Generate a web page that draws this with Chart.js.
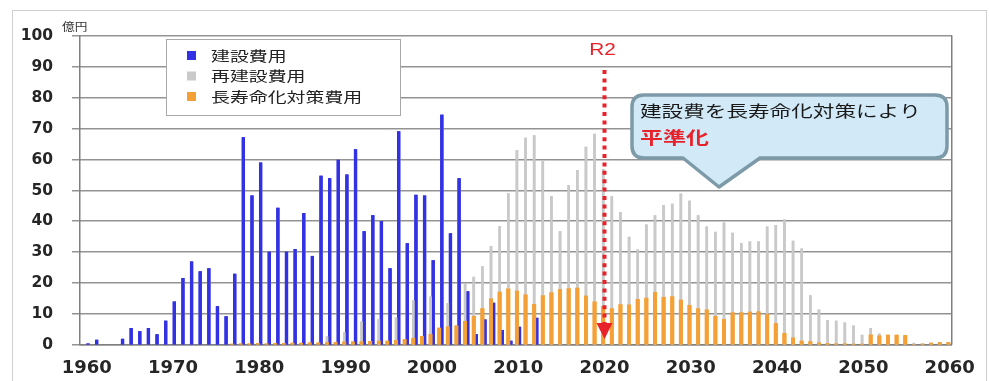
<!DOCTYPE html>
<html lang="ja">
<head>
<meta charset="utf-8">
<title>建設費用・再建設費用・長寿命化対策費用の推移</title>
<script src="https://cdn.jsdelivr.net/npm/chart.js@4.4.1/dist/chart.umd.min.js"></script>
<style>
  html, body { margin: 0; padding: 0; background: #ffffff; }
</style>
</head>
<body>
<canvas id="c" width="989" height="381"></canvas>
<script>
// 年度（1960〜2060）
const years = [
  1960,1961,1962,1963,1964,1965,1966,1967,1968,1969,
  1970,1971,1972,1973,1974,1975,1976,1977,1978,1979,
  1980,1981,1982,1983,1984,1985,1986,1987,1988,1989,
  1990,1991,1992,1993,1994,1995,1996,1997,1998,1999,
  2000,2001,2002,2003,2004,2005,2006,2007,2008,2009,
  2010,2011,2012,2013,2014,2015,2016,2017,2018,2019,
  2020,2021,2022,2023,2024,2025,2026,2027,2028,2029,
  2030,2031,2032,2033,2034,2035,2036,2037,2038,2039,
  2040,2041,2042,2043,2044,2045,2046,2047,2048,2049,
  2050,2051,2052,2053,2054,2055,2056,2057,2058,2059,
  2060
];

// 建設費用（億円）
const buildCost = [
  0.4,1.6,0,0,1.9,5.4,4.4,5.4,3.4,7.8,
  14.0,21.6,27.0,23.8,24.8,12.5,9.2,23.0,67.3,48.4,
  59.1,30.2,44.4,30.2,31.0,42.7,28.8,54.8,54.0,60.0,
  55.2,63.4,36.8,42.0,40.1,24.8,69.2,32.9,48.6,48.4,
  27.4,74.6,36.1,54.0,17.3,3.4,8.2,13.6,4.8,1.3,
  5.8,0,8.7,0,0,0,0,0,0,0,
  0,0,0,0,0,0,0,0,0,0,
  0,0,0,0,0,0,0,0,0,0,
  0,0,0,0,0,0,0,0,0,0,
  0,0,0,0,0,0,0,0,0,0,
  0
];

// 再建設費用（億円）
const rebuildCost = [
  0,0,0,0,0,0,0,0,0,0,
  0,0,0,0,0,0,0,0,0,0,
  0,0,0,0,0,0,0,0,2.7,0,
  4.0,0,7.5,0,8.3,0,8.8,0,14.4,0,
  15.6,0,13.5,0,20.0,22.0,25.4,32.0,38.4,49.1,
  63.1,67.1,67.9,59.6,48.2,36.8,51.8,56.6,64.2,68.4,
  57.0,48.1,43.0,35.0,30.9,39.0,42.0,45.3,45.7,49.0,
  46.7,42.0,38.3,36.6,39.6,36.3,33.0,33.5,33.5,38.3,
  38.8,40.6,33.7,31.2,16.0,11.4,8.0,7.8,7.2,6.2,
  3.2,5.4,3.6,2.6,2.2,1.8,0.6,0.4,0.6,0.8,
  0.8
];

// 長寿命化対策費用（億円）
const lifeExtCost = [
  0,0,0,0,0,0,0,0,0,0,
  0,0,0,0,0,0,0,0.3,0.4,0.4,
  0.5,0.4,0.5,0.5,0.6,0.6,0.7,0.7,0.8,0.9,
  1.0,1.0,1.1,1.2,1.3,1.3,1.5,1.8,2.2,2.8,
  3.5,5.5,5.9,6.2,7.7,9.3,11.8,15.0,17.2,18.2,
  17.5,16.3,13.2,16.0,17.0,18.0,18.3,18.5,15.9,14.0,
  12.5,11.8,13.1,13.0,14.8,15.2,17.1,15.5,15.7,14.6,
  12.9,11.8,11.4,9.3,8.3,10.5,10.5,10.7,10.8,10.0,
  7.0,3.8,2.3,1.3,1.1,0.7,0.5,0.4,0.4,0.3,
  0.3,3.3,3.0,3.2,3.2,3.1,0.2,0.3,0.6,0.8,
  0.8
];

// 軸の目盛
const xTickYears = [1960,1970,1980,1990,2000,2010,2020,2030,2040,2050,2060];
const yTickValues = [0,10,20,30,40,50,60,70,80,90,100];

const seriesNames = ['建設費用', '再建設費用', '長寿命化対策費用'];
const markerYear = 2020;
const markerLabel = 'R2';
const calloutLines = ['建設費を長寿命化対策により', '平準化'];
const unitLabel = '億円';

// レイアウト（作図範囲の上端・下端、左右の軸幅）
const PAD_TOP = 34;
const PAD_RIGHT = 37;
const Y_AXIS_WIDTH = 80;
const X_AXIS_HEIGHT = 34;
const CANVAS_W = 989;
const CANVAS_H = 381;

const COLOR_BUILD = '#3232e4';
const COLOR_REBUILD = '#c9c9c9';
const COLOR_LIFE = '#f4a036';
const COLOR_RED = '#e8222b';
const COLOR_GRID = '#939393';
const COLOR_AXIS = '#808080';

const toPoints = (vals) => years.map((yr, i) => ({ x: yr, y: vals[i] }));

// 横に引き伸ばした文字を描く
function wideText(ctx, str, x, y, font, color, align, sx) {
  ctx.save();
  ctx.font = font;
  ctx.fillStyle = color;
  ctx.textBaseline = 'middle';
  ctx.textAlign = align || 'left';
  ctx.translate(x, y);
  ctx.scale(sx || 1.35, 1);
  ctx.fillText(str, 0, 0);
  ctx.restore();
}

const finiteOr = (v, fallback) => (Number.isFinite(v) ? v : fallback);

// 作図範囲（軸から求め、求まらないときはレイアウト値）
function plotBounds(chart) {
  const xs = chart.scales.x;
  const ys = chart.scales.y;
  return {
    left: finiteOr(xs && xs.left, Y_AXIS_WIDTH),
    right: finiteOr(xs && xs.right, CANVAS_W - PAD_RIGHT),
    top: finiteOr(ys && ys.top, PAD_TOP),
    bottom: finiteOr(ys && ys.bottom, CANVAS_H - X_AXIS_HEIGHT)
  };
}

function valueToY(chart, b, v) {
  const ys = chart.scales.y;
  const fallback = b.bottom - (v / 100) * (b.bottom - b.top);
  return finiteOr(ys ? ys.getPixelForValue(v) : NaN, fallback);
}

// 目盛線・軸線を細い矩形で描く
function drawGrid(chart) {
  const ctx = chart.ctx;
  const b = plotBounds(chart);
  ctx.save();
  ctx.setTransform(1, 0, 0, 1, 0, 0);
  ctx.globalAlpha = 1;
  ctx.globalCompositeOperation = 'source-over';
  ctx.fillStyle = COLOR_GRID;
  yTickValues.forEach((v) => {
    const py = Math.round(valueToY(chart, b, v));
    ctx.fillRect(b.left - 8, py - 1, b.right - b.left + 8, 1.5);
  });
  ctx.fillStyle = COLOR_AXIS;
  ctx.fillRect(Math.round(b.left) - 1, b.top - 1, 1.5, b.bottom - b.top + 1);
  ctx.fillRect(Math.round(b.right) - 1, b.top - 1, 1.5, b.bottom - b.top + 1);
  ctx.fillRect(b.left - 1, Math.round(b.bottom) - 1, b.right - b.left + 1, 1.5);
  ctx.restore();
}

const decorations = {
  id: 'decorations',
  beforeDraw(chart) {
    const ctx = chart.ctx;
    ctx.save();
    ctx.fillStyle = '#ffffff';
    ctx.fillRect(0, 0, chart.width, chart.height);
    ctx.strokeStyle = '#cfcfcf';
    ctx.lineWidth = 1;
    ctx.strokeRect(12.5, 10.5, 974, 380);
    ctx.restore();
  },
  afterDraw(chart) {
    const ctx = chart.ctx;
    const xs = chart.scales.x;

    drawGrid(chart);

    // 棒を目盛線の上に重ねる（order の大きい系列から）
    const metas = chart.getSortedVisibleDatasetMetas();
    for (let i = metas.length - 1; i >= 0; --i) {
      metas[i].data.forEach((el) => el.draw(ctx));
    }

    // 単位
    wideText(ctx, unitLabel, 62, 27, '11px "Noto Sans CJK JP"', '#333333', 'left', 1.15);

    // 凡例
    ctx.save();
    ctx.fillStyle = '#ffffff';
    ctx.strokeStyle = '#a8a8a8';
    ctx.lineWidth = 1;
    ctx.fillRect(166.5, 39.5, 234, 76);
    ctx.strokeRect(166.5, 39.5, 234, 76);
    const legendColors = [COLOR_BUILD, COLOR_REBUILD, COLOR_LIFE];
    const rowY = [55.5, 76, 96.5];
    seriesNames.forEach((name, i) => {
      ctx.fillStyle = legendColors[i];
      ctx.fillRect(187, rowY[i] - 4.5, 9, 9);
      wideText(ctx, name, 211, rowY[i], '14px "Noto Sans CJK JP"', '#222222');
    });
    ctx.restore();

    // R2 の点線矢印
    const mx = xs.getPixelForValue(markerYear);
    ctx.save();
    ctx.strokeStyle = COLOR_RED;
    ctx.lineWidth = 4;
    ctx.setLineDash([4, 4.4]);
    ctx.beginPath();
    ctx.moveTo(mx, 70);
    ctx.lineTo(mx, 324);
    ctx.stroke();
    ctx.setLineDash([]);
    ctx.fillStyle = COLOR_RED;
    ctx.beginPath();
    ctx.moveTo(mx - 8, 323);
    ctx.lineTo(mx + 8, 323);
    ctx.lineTo(mx, 339);
    ctx.closePath();
    ctx.fill();
    ctx.restore();
    wideText(ctx, markerLabel, mx - 2, 51, '16px "Liberation Sans"', COLOR_RED, 'center', 1.3);

    // 吹き出し
    ctx.save();
    const bx = 632, by = 95, bw = 315, bh = 63, r = 12;
    const tipX = 719, tipY = 187, baseL = 683, baseR = 760;
    ctx.beginPath();
    ctx.moveTo(bx + r, by);
    ctx.lineTo(bx + bw - r, by);
    ctx.quadraticCurveTo(bx + bw, by, bx + bw, by + r);
    ctx.lineTo(bx + bw, by + bh - r);
    ctx.quadraticCurveTo(bx + bw, by + bh, bx + bw - r, by + bh);
    ctx.lineTo(baseR, by + bh);
    ctx.lineTo(tipX, tipY);
    ctx.lineTo(baseL, by + bh);
    ctx.lineTo(bx + r, by + bh);
    ctx.quadraticCurveTo(bx, by + bh, bx, by + bh - r);
    ctx.lineTo(bx, by + r);
    ctx.quadraticCurveTo(bx, by, bx + r, by);
    ctx.closePath();
    ctx.fillStyle = '#d2eaf8';
    ctx.fill();
    ctx.strokeStyle = '#7d9aa8';
    ctx.lineWidth = 3.5;
    ctx.lineJoin = 'round';
    ctx.stroke();
    ctx.restore();
    wideText(ctx, calloutLines[0], 640, 111, '16px "Noto Sans CJK JP"', '#1a1a1a');
    wideText(ctx, calloutLines[1], 640, 138, 'bold 17px "Noto Sans CJK JP"', COLOR_RED);
  }
};

const chart = new Chart(document.getElementById('c'), {
  type: 'bar',
  data: {
    datasets: [
      { label: seriesNames[2], data: toPoints(lifeExtCost), backgroundColor: COLOR_LIFE,
        stack: 'a', order: 0, barPercentage: 1.5, categoryPercentage: 0.6 },
      { label: seriesNames[1], data: toPoints(rebuildCost), backgroundColor: COLOR_REBUILD,
        stack: 'a', order: 1, barPercentage: 1.0, categoryPercentage: 0.6 },
      { label: seriesNames[0], data: toPoints(buildCost), backgroundColor: COLOR_BUILD,
        stack: 'b', order: 2, barPercentage: 1.25, categoryPercentage: 0.6 }
    ]
  },
  options: {
    responsive: false,
    devicePixelRatio: 1,
    animation: false,
    layout: { padding: { top: PAD_TOP, right: PAD_RIGHT, bottom: 0, left: 0 } },
    plugins: { legend: { display: false }, tooltip: { enabled: false } },
    scales: {
      x: {
        type: 'linear',
        min: 1959.22,
        max: 2060.27,
        offset: false,
        grid: { display: false, drawTicks: false },
        border: { display: false },
        ticks: {
          font: { family: 'DejaVu Sans', size: 18, weight: 'bold' },
          color: '#262626',
          padding: 13,
          maxRotation: 0,
          autoSkip: false,
          callback: (v) => String(v)
        },
        afterBuildTicks: (s) => { s.ticks = xTickYears.map((v) => ({ value: v })); },
        afterFit: (s) => { s.height = X_AXIS_HEIGHT; }
      },
      y: {
        min: 0,
        max: 100,
        stacked: false,
        grid: { display: false, drawTicks: false },
        border: { display: false },
        ticks: {
          font: { family: 'DejaVu Sans', size: 15.5, weight: 'bold' },
          color: '#262626',
          padding: 27,
          callback: (v) => String(v)
        },
        afterBuildTicks: (s) => { s.ticks = yTickValues.map((v) => ({ value: v })); },
        afterFit: (s) => { s.width = Y_AXIS_WIDTH; }
      }
    }
  },
  plugins: [decorations]
});
</script>
</body>
</html>
